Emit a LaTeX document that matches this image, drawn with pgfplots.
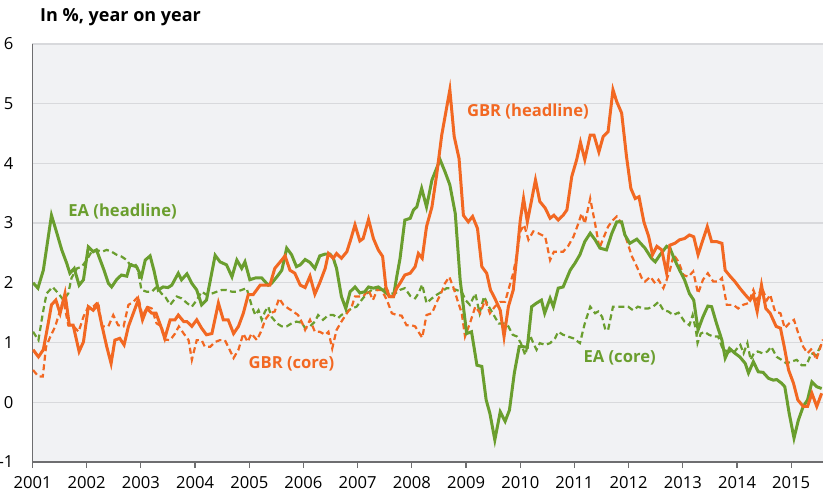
\documentclass[border=0pt]{standalone}
\usepackage{fontspec}
\setmainfont{Open Sans}
\usepackage{pgfplots}
\pgfplotsset{compat=1.18}
\definecolor{gbr}{RGB}{242,104,34}
\definecolor{ea}{RGB}{106,158,46}
\definecolor{bg}{RGB}{241,242,244}
\definecolor{gridc}{RGB}{216,217,220}
\definecolor{axc}{RGB}{110,110,112}
\begin{document}
\begin{tikzpicture}
\path[use as bounding box] (-16.25pt,-15.5pt) rectangle (395.25pt,231pt);
\begin{axis}[
  at={(0,0)}, anchor=south west,
  scale only axis, width=395.25pt, height=209.1pt,
  xmin=2001, xmax=2015.585, ymin=-1, ymax=6,
  axis x line*=bottom, axis y line*=left,
  axis line style={axc, line width=0.8pt},
  axis background/.style={fill=bg},
  xtick={2001,...,2015},
  xticklabels={2001,2002,2003,2004,2005,2006,2007,2008,2009,2010,2011,2012,2013,2014,2015},
  ytick={-1,0,...,6},
  yticklabels={-1,0,1,2,3,4,5,6},
  ymajorgrids, grid style={gridc, line width=0.7pt},
  tick align=outside,
  major tick length=3pt,
  x tick style={axc, line width=0.6pt},
  y tick style={draw=none},
  tick label style={font=\fontsize{8.3}{10}\selectfont, text=black},
  yticklabel style={anchor=east, xshift=-3pt},
  xticklabel style={yshift=-0.5pt},
  clip=true,
]
% EA core
\addplot[ea, line width=1.1pt, dash pattern=on 3pt off 1.8pt] coordinates {
(2001.01,1.18)(2001.11,1.04)(2001.19,1.49)(2001.26,1.82)(2001.37,1.93)(2001.48,1.82)(2001.57,1.71)(2001.66,1.82)(2001.72,2.08)(2001.82,2.24)(2001.91,2.27)(2002.00,2.38)(2002.09,2.52)(2002.18,2.55)(2002.28,2.52)(2002.37,2.55)(2002.46,2.52)(2002.55,2.47)(2002.64,2.44)(2002.74,2.38)(2002.80,2.30)(2002.89,2.33)(2002.95,2.19)(2003.01,1.88)(2003.11,1.85)(2003.20,1.85)(2003.29,1.93)(2003.38,1.82)(2003.46,1.75)(2003.54,1.63)(2003.66,1.77)(2003.75,1.74)(2003.85,1.66)(2003.94,1.60)(2004.03,1.71)(2004.12,1.85)(2004.21,1.80)(2004.31,1.82)(2004.40,1.85)(2004.49,1.88)(2004.58,1.88)(2004.68,1.85)(2004.77,1.85)(2004.86,1.88)(2004.95,1.91)(2005.04,1.63)(2005.11,1.46)(2005.17,1.54)(2005.23,1.38)(2005.29,1.52)(2005.35,1.60)(2005.41,1.43)(2005.51,1.32)(2005.60,1.27)(2005.69,1.27)(2005.78,1.32)(2005.87,1.35)(2005.97,1.33)(2006.03,1.24)(2006.12,1.27)(2006.21,1.35)(2006.27,1.46)(2006.36,1.38)(2006.46,1.46)(2006.55,1.46)(2006.64,1.41)(2006.70,1.46)(2006.80,1.52)(2006.89,1.57)(2006.98,1.60)(2007.07,1.71)(2007.17,1.82)(2007.26,1.88)(2007.35,1.88)(2007.44,1.93)(2007.54,1.88)(2007.60,1.82)(2007.69,1.82)(2007.78,1.88)(2007.87,1.91)(2007.97,1.78)(2008.06,1.74)(2008.12,1.82)(2008.19,1.97)(2008.27,1.66)(2008.37,1.74)(2008.46,1.80)(2008.55,1.85)(2008.64,1.91)(2008.73,1.91)(2008.82,1.88)(2008.92,1.85)(2008.99,1.71)(2009.07,1.63)(2009.17,1.82)(2009.25,1.49)(2009.33,1.77)(2009.42,1.60)(2009.51,1.46)(2009.60,1.32)(2009.70,1.32)(2009.78,1.27)(2009.86,1.13)(2009.94,1.10)(2010.01,0.99)(2010.09,0.79)(2010.18,1.12)(2010.24,0.99)(2010.30,0.88)(2010.36,0.99)(2010.46,0.96)(2010.55,0.99)(2010.64,1.07)(2010.70,1.18)(2010.79,1.13)(2010.88,1.10)(2010.98,1.07)(2011.10,0.99)(2011.19,1.32)(2011.29,1.60)(2011.38,1.49)(2011.44,1.52)(2011.51,1.43)(2011.57,1.21)(2011.62,1.21)(2011.71,1.60)(2011.81,1.60)(2011.90,1.60)(2011.99,1.60)(2012.08,1.54)(2012.17,1.60)(2012.27,1.57)(2012.36,1.57)(2012.45,1.60)(2012.55,1.68)(2012.64,1.54)(2012.73,1.52)(2012.82,1.46)(2012.92,1.50)(2013.03,1.35)(2013.12,1.29)(2013.18,1.46)(2013.24,1.21)(2013.27,0.99)(2013.33,1.15)(2013.40,1.18)(2013.48,1.13)(2013.56,1.10)(2013.65,1.10)(2013.74,0.88)(2013.84,0.85)(2013.93,0.82)(2014.00,0.90)(2014.06,0.96)(2014.12,0.82)(2014.19,0.99)(2014.25,0.71)(2014.31,0.82)(2014.38,0.85)(2014.47,0.82)(2014.56,0.85)(2014.63,0.93)(2014.73,0.76)(2014.82,0.71)(2014.91,0.65)(2015.00,0.68)(2015.10,0.71)(2015.19,0.62)(2015.28,0.62)(2015.37,0.82)(2015.46,0.79)(2015.55,0.96)
};
% GBR core
\addplot[gbr, line width=1.1pt, dash pattern=on 3pt off 1.8pt] coordinates {
(2001.01,0.54)(2001.11,0.43)(2001.19,0.43)(2001.25,0.93)(2001.33,1.10)(2001.42,1.27)(2001.51,1.54)(2001.57,1.71)(2001.66,1.29)(2001.74,1.29)(2001.85,1.18)(2001.94,1.43)(2002.03,1.60)(2002.12,1.60)(2002.21,1.68)(2002.28,1.27)(2002.40,1.27)(2002.49,1.46)(2002.58,1.29)(2002.68,1.27)(2002.77,1.63)(2002.86,1.68)(2002.95,1.77)(2003.03,1.43)(2003.11,1.60)(2003.20,1.57)(2003.29,1.32)(2003.38,1.27)(2003.44,1.05)(2003.54,1.04)(2003.63,1.15)(2003.70,1.27)(2003.79,1.15)(2003.88,1.04)(2003.94,0.71)(2004.03,1.04)(2004.12,1.04)(2004.18,0.93)(2004.28,0.93)(2004.37,1.01)(2004.46,1.04)(2004.55,1.04)(2004.61,0.93)(2004.71,0.74)(2004.80,0.88)(2004.89,1.15)(2004.97,1.01)(2005.04,1.15)(2005.14,1.04)(2005.23,1.21)(2005.29,1.38)(2005.38,1.49)(2005.47,1.52)(2005.55,1.74)(2005.63,1.63)(2005.72,1.57)(2005.81,1.52)(2005.90,1.46)(2005.97,1.34)(2006.03,1.21)(2006.12,1.38)(2006.21,1.18)(2006.30,1.18)(2006.40,1.13)(2006.46,1.18)(2006.53,0.90)(2006.61,1.21)(2006.70,1.35)(2006.80,1.49)(2006.89,1.60)(2006.95,1.77)(2007.04,1.77)(2007.10,1.77)(2007.20,1.88)(2007.28,1.71)(2007.36,1.88)(2007.44,1.88)(2007.54,1.71)(2007.63,1.49)(2007.72,1.46)(2007.81,1.45)(2007.90,1.29)(2007.99,1.29)(2008.06,1.27)(2008.12,1.18)(2008.19,1.08)(2008.27,1.46)(2008.37,1.49)(2008.46,1.68)(2008.55,1.85)(2008.61,1.99)(2008.69,2.10)(2008.77,1.91)(2008.84,1.71)(2008.92,1.49)(2008.98,1.10)(2009.07,1.32)(2009.17,1.60)(2009.26,1.49)(2009.35,1.71)(2009.44,1.49)(2009.53,1.60)(2009.63,1.68)(2009.72,1.68)(2009.78,1.88)(2009.87,2.16)(2009.94,2.49)(2010.00,2.86)(2010.07,2.97)(2010.15,2.72)(2010.24,2.86)(2010.33,2.83)(2010.46,2.77)(2010.55,2.38)(2010.62,2.52)(2010.70,2.52)(2010.79,2.52)(2010.88,2.61)(2010.98,2.77)(2011.07,2.99)(2011.13,3.16)(2011.19,2.99)(2011.29,3.41)(2011.38,2.99)(2011.46,2.58)(2011.53,2.74)(2011.62,2.94)(2011.71,3.05)(2011.78,3.11)(2011.87,2.99)(2011.96,2.72)(2012.06,2.44)(2012.15,2.27)(2012.24,2.08)(2012.30,2.02)(2012.40,2.10)(2012.49,1.99)(2012.55,2.05)(2012.64,1.91)(2012.70,2.05)(2012.76,2.21)(2012.83,2.47)(2012.92,2.35)(2013.01,2.13)(2013.10,2.10)(2013.19,2.19)(2013.28,1.82)(2013.37,2.05)(2013.46,2.16)(2013.56,2.02)(2013.65,2.02)(2013.72,2.08)(2013.81,1.63)(2013.93,1.63)(2014.02,1.57)(2014.11,1.63)(2014.21,1.66)(2014.30,1.88)(2014.37,1.71)(2014.45,1.93)(2014.55,1.71)(2014.61,1.80)(2014.70,1.52)(2014.80,1.49)(2014.88,1.24)(2014.96,1.32)(2015.05,1.38)(2015.13,1.15)(2015.22,0.93)(2015.30,0.82)(2015.38,0.90)(2015.46,0.71)(2015.54,0.93)(2015.585,1.05)
};
% EA headline
\addplot[ea, line width=1.5pt] coordinates {
(2001.01,2.00)(2001.10,1.91)(2001.20,2.21)(2001.35,3.13)(2001.45,2.83)(2001.54,2.55)(2001.63,2.33)(2001.69,2.16)(2001.77,2.24)(2001.86,1.96)(2001.94,2.05)(2002.03,2.60)(2002.12,2.52)(2002.18,2.55)(2002.25,2.38)(2002.32,2.21)(2002.40,1.99)(2002.46,1.93)(2002.55,2.05)(2002.64,2.13)(2002.74,2.11)(2002.80,2.30)(2002.92,2.27)(2003.01,2.10)(2003.08,2.38)(2003.17,2.45)(2003.24,2.21)(2003.32,1.88)(2003.41,1.93)(2003.50,1.92)(2003.57,1.96)(2003.69,2.16)(2003.75,2.05)(2003.85,2.15)(2003.94,1.99)(2004.03,1.88)(2004.12,1.63)(2004.21,1.71)(2004.37,2.46)(2004.46,2.35)(2004.58,2.30)(2004.68,2.10)(2004.77,2.38)(2004.86,2.24)(2004.92,2.35)(2005.01,2.05)(2005.11,2.08)(2005.23,2.08)(2005.35,1.96)(2005.41,1.99)(2005.51,2.10)(2005.60,2.21)(2005.69,2.58)(2005.78,2.47)(2005.87,2.27)(2005.94,2.30)(2006.03,2.39)(2006.12,2.34)(2006.21,2.24)(2006.30,2.45)(2006.40,2.48)(2006.49,2.48)(2006.55,2.41)(2006.61,2.24)(2006.70,1.77)(2006.78,1.57)(2006.86,1.85)(2006.95,1.93)(2007.04,1.83)(2007.13,1.85)(2007.20,1.93)(2007.29,1.91)(2007.38,1.93)(2007.50,1.85)(2007.60,1.77)(2007.66,1.77)(2007.72,2.10)(2007.78,2.40)(2007.87,3.05)(2007.97,3.08)(2008.03,3.22)(2008.09,3.27)(2008.18,3.58)(2008.27,3.27)(2008.37,3.72)(2008.52,4.06)(2008.61,3.86)(2008.70,3.64)(2008.80,3.16)(2008.89,2.05)(2009.01,1.15)(2009.10,1.18)(2009.20,0.62)(2009.29,0.60)(2009.37,0.04)(2009.44,-0.19)(2009.53,-0.63)(2009.63,-0.16)(2009.72,-0.32)(2009.80,-0.13)(2009.89,0.49)(2009.98,0.93)(2010.06,0.93)(2010.13,0.92)(2010.21,1.60)(2010.30,1.66)(2010.39,1.71)(2010.45,1.49)(2010.55,1.74)(2010.61,1.60)(2010.70,1.91)(2010.79,1.93)(2010.92,2.21)(2011.01,2.33)(2011.10,2.47)(2011.19,2.69)(2011.29,2.83)(2011.38,2.72)(2011.47,2.58)(2011.59,2.55)(2011.69,2.83)(2011.78,3.02)(2011.87,3.02)(2011.93,2.80)(2012.02,2.66)(2012.15,2.73)(2012.30,2.58)(2012.42,2.41)(2012.49,2.35)(2012.58,2.47)(2012.70,2.61)(2012.76,2.58)(2012.85,2.38)(2012.94,2.21)(2013.03,2.05)(2013.12,1.82)(2013.20,1.71)(2013.28,1.21)(2013.37,1.43)(2013.46,1.61)(2013.53,1.60)(2013.62,1.32)(2013.72,1.04)(2013.78,0.74)(2013.86,0.90)(2013.96,0.82)(2014.05,0.76)(2014.15,0.65)(2014.21,0.49)(2014.30,0.68)(2014.39,0.51)(2014.48,0.50)(2014.58,0.40)(2014.67,0.37)(2014.73,0.38)(2014.82,0.32)(2014.88,0.26)(2014.96,-0.18)(2015.05,-0.60)(2015.13,-0.30)(2015.22,-0.07)(2015.30,0.04)(2015.38,0.34)(2015.47,0.26)(2015.56,0.23)
};
% GBR headline
\addplot[gbr, line width=1.5pt] coordinates {
(2001.01,0.88)(2001.11,0.76)(2001.20,0.88)(2001.29,1.32)(2001.35,1.63)(2001.43,1.71)(2001.51,1.49)(2001.60,1.82)(2001.68,1.29)(2001.75,1.29)(2001.86,0.85)(2001.94,1.01)(2002.03,1.60)(2002.12,1.54)(2002.20,1.63)(2002.28,1.29)(2002.37,0.93)(2002.45,0.65)(2002.52,1.04)(2002.61,1.07)(2002.69,0.96)(2002.77,1.27)(2002.86,1.49)(2002.95,1.71)(2003.03,1.38)(2003.11,1.57)(2003.20,1.49)(2003.28,1.49)(2003.38,1.24)(2003.44,1.07)(2003.54,1.38)(2003.63,1.38)(2003.69,1.46)(2003.79,1.35)(2003.85,1.35)(2003.94,1.27)(2004.03,1.38)(2004.12,1.24)(2004.21,1.13)(2004.31,1.15)(2004.43,1.66)(2004.52,1.38)(2004.61,1.38)(2004.71,1.15)(2004.80,1.27)(2004.89,1.49)(2004.98,1.80)(2005.07,1.80)(2005.20,1.96)(2005.29,1.96)(2005.38,1.96)(2005.47,2.24)(2005.57,2.35)(2005.66,2.45)(2005.75,2.21)(2005.84,2.16)(2005.94,1.96)(2006.03,1.92)(2006.12,2.11)(2006.21,1.81)(2006.30,2.00)(2006.40,2.24)(2006.46,2.49)(2006.55,2.41)(2006.61,2.49)(2006.70,2.41)(2006.80,2.52)(2006.87,2.72)(2006.95,2.97)(2007.04,2.70)(2007.10,2.74)(2007.20,3.06)(2007.29,2.74)(2007.38,2.55)(2007.46,2.44)(2007.52,1.93)(2007.58,1.77)(2007.66,1.77)(2007.72,1.91)(2007.78,1.99)(2007.87,2.13)(2007.97,2.16)(2008.06,2.27)(2008.12,2.49)(2008.19,2.41)(2008.27,2.94)(2008.37,3.27)(2008.46,3.83)(2008.55,4.47)(2008.70,5.23)(2008.78,4.45)(2008.87,4.08)(2008.95,3.13)(2009.04,3.02)(2009.12,3.11)(2009.21,2.91)(2009.29,2.27)(2009.38,2.16)(2009.45,1.88)(2009.53,1.74)(2009.63,1.54)(2009.70,1.10)(2009.78,1.60)(2009.87,1.88)(2009.94,2.49)(2010.00,3.05)(2010.06,3.41)(2010.13,3.02)(2010.21,3.39)(2010.28,3.72)(2010.36,3.36)(2010.46,3.25)(2010.55,3.08)(2010.62,3.13)(2010.70,3.05)(2010.79,3.13)(2010.86,3.22)(2010.95,3.78)(2011.04,4.06)(2011.11,4.35)(2011.19,4.06)(2011.29,4.47)(2011.36,4.47)(2011.45,4.19)(2011.53,4.45)(2011.62,4.53)(2011.71,5.23)(2011.78,5.03)(2011.87,4.84)(2011.96,4.11)(2012.04,3.58)(2012.12,3.41)(2012.19,3.44)(2012.28,3.02)(2012.37,2.77)(2012.44,2.47)(2012.52,2.61)(2012.61,2.55)(2012.70,2.16)(2012.76,2.63)(2012.85,2.66)(2012.94,2.72)(2013.03,2.74)(2013.12,2.80)(2013.20,2.77)(2013.28,2.47)(2013.37,2.72)(2013.45,2.94)(2013.53,2.69)(2013.62,2.69)(2013.72,2.66)(2013.78,2.21)(2013.88,2.10)(2013.96,2.02)(2014.05,1.91)(2014.15,1.80)(2014.24,1.71)(2014.30,1.80)(2014.37,1.52)(2014.45,1.96)(2014.53,1.57)(2014.61,1.49)(2014.72,1.27)(2014.80,1.24)(2014.87,0.93)(2014.95,0.54)(2015.04,0.32)(2015.12,0.04)(2015.22,-0.07)(2015.30,-0.07)(2015.38,0.15)(2015.47,-0.07)(2015.56,0.15)
};
\node[anchor=west, text=ea, font=\bfseries\fontsize{8.3}{10}\selectfont, inner sep=0pt] at (axis cs:2001.655,3.20) {EA (headline)};
\node[anchor=west, text=gbr, font=\bfseries\fontsize{8.3}{10}\selectfont, inner sep=0pt] at (axis cs:2009.01,4.86) {GBR (headline)};
\node[anchor=west, text=gbr, font=\bfseries\fontsize{8.3}{10}\selectfont, inner sep=0pt] at (axis cs:2004.98,0.64) {GBR (core)};
\node[anchor=west, text=ea, font=\bfseries\fontsize{8.3}{10}\selectfont, inner sep=0pt] at (axis cs:2011.16,0.74) {EA (core)};
\end{axis}
\node[anchor=west, font=\bfseries\fontsize{9}{11}\selectfont, inner sep=0pt] at (3.6pt,222.5pt) {In \%, year on year};
\end{tikzpicture}
\end{document}
